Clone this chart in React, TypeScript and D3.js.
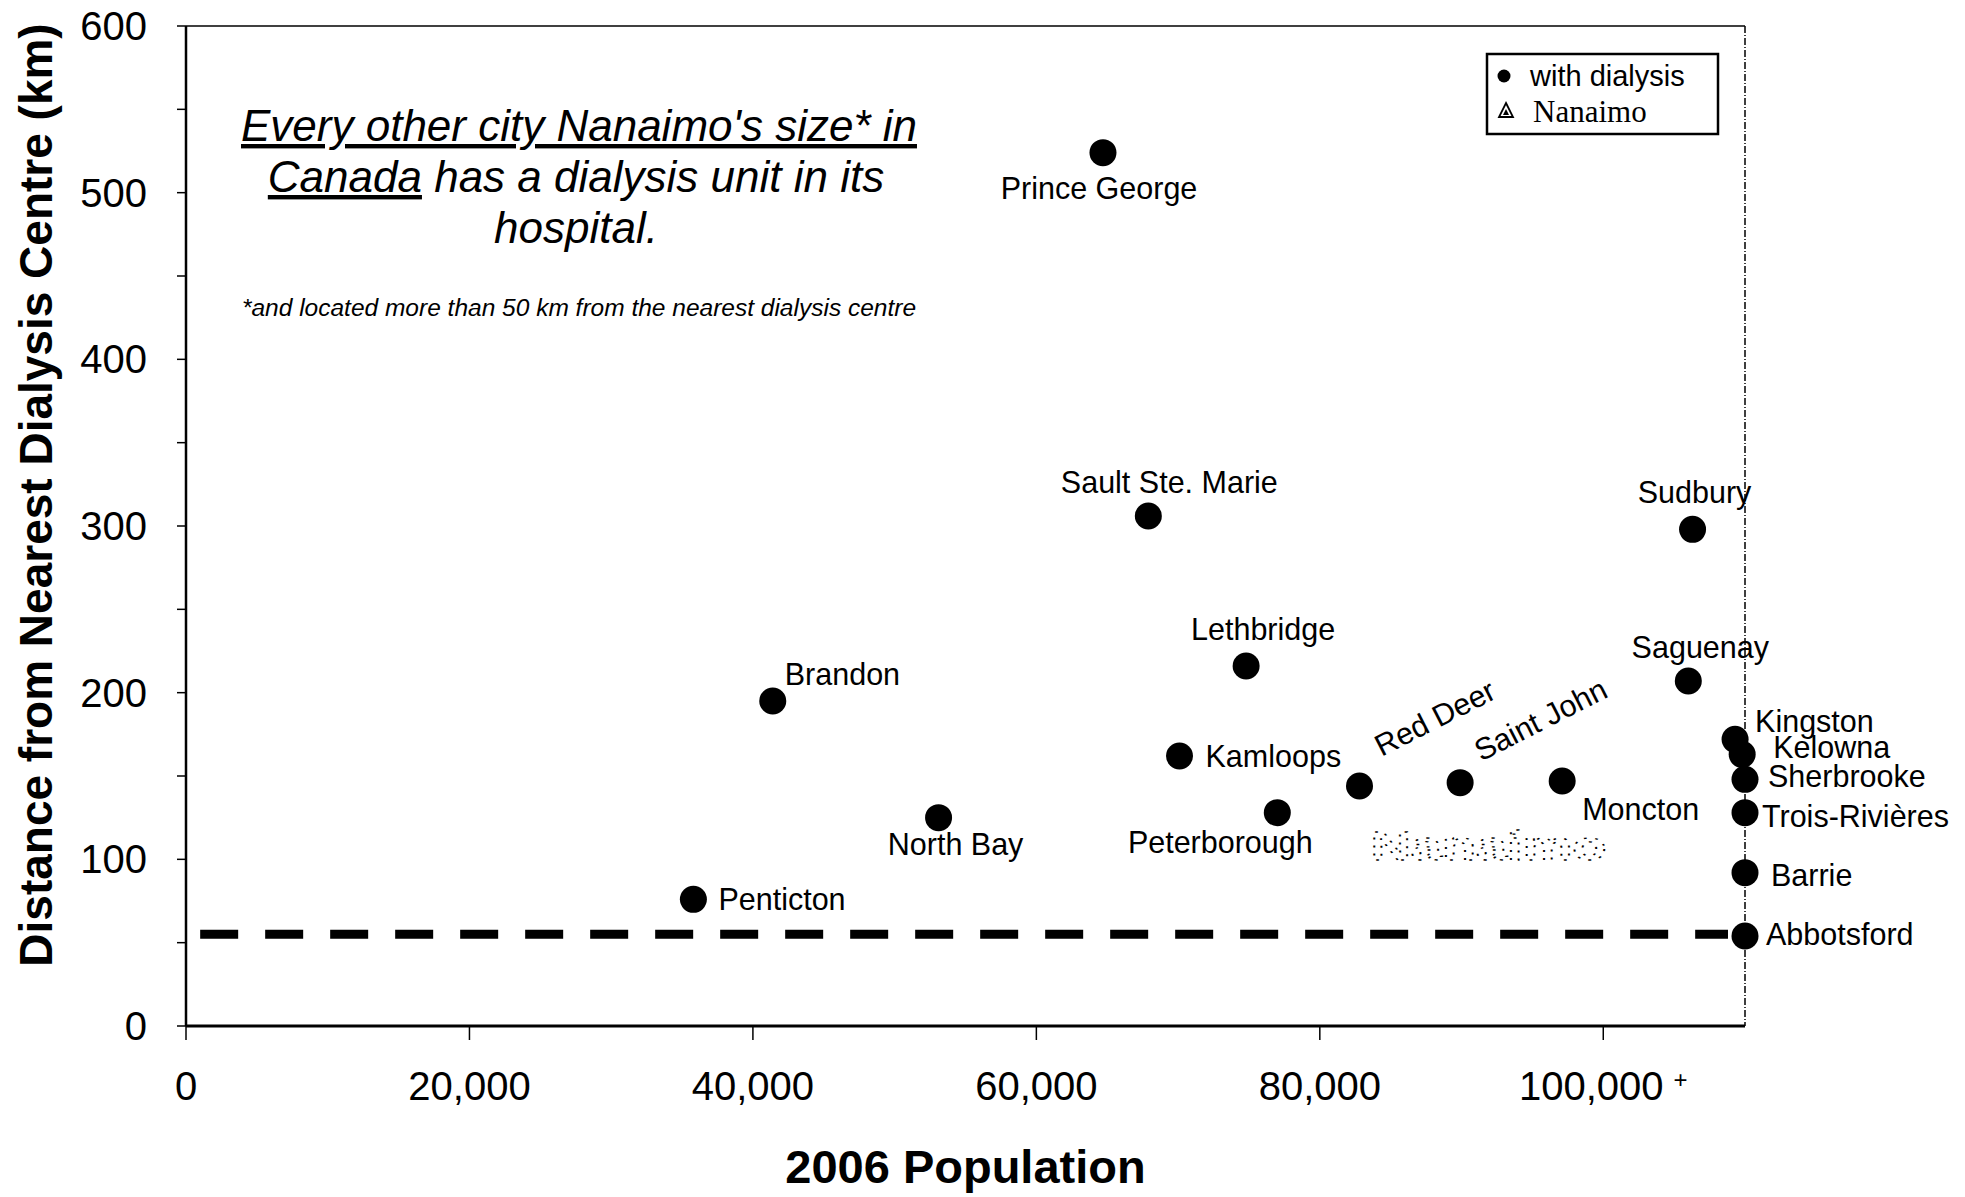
import { useEffect } from "react";
import * as d3 from "d3";

// cities with a dialysis unit (2006 population, km to nearest other dialysis centre)
const cities = [
  "Penticton", "Brandon", "North Bay", "Prince George", "Sault Ste. Marie",
  "Kamloops", "Lethbridge", "Peterborough", "Red Deer", "Saint John",
  "Moncton", "Saguenay", "Sudbury", "Kingston", "Kelowna",
  "Sherbrooke", "Trois-Rivières", "Barrie", "Abbotsford",
];
const population = [
  35800, 41400, 53100, 64700, 67900,
  70100, 74800, 77000, 82800, 89900,
  97100, 106000, 106300, 109300, 109800,
  110000, 110000, 110000, 110000,
];
const distanceKm = [
  76, 195, 125, 524, 306,
  162, 216, 128, 144, 146,
  147, 207, 298, 172, 163,
  148, 128, 92, 54,
];

const nanaimo = { name: "Nanaimo", population: 91900, distance: 108 };
const thresholdKm = 55;

const xTicks = [0, 20000, 40000, 60000, 80000, 100000];
const yTicks = [0, 100, 200, 300, 400, 500, 600];
const yMinorTicks = d3.range(0, 601, 50);

const noteLines = ["Every other city Nanaimo's size* in", "has a dialysis unit in its", "hospital."];
const footnote = "*and located more than 50 km from the nearest dialysis centre";

// label placement relative to each dot: [anchor, dx, dy, rotation]
const labelPlace: Record<string, [string, number, number, number]> = {
  Penticton: ["start", 25, 0, 0],
  Brandon: ["start", 12, -27, 0],
  "North Bay": ["middle", 17, 26, 0],
  "Prince George": ["middle", -4, 35, 0],
  "Sault Ste. Marie": ["middle", 21, -34, 0],
  Kamloops: ["start", 26, 0, 0],
  Lethbridge: ["middle", 17, -37, 0],
  Peterborough: ["middle", -57, 29, 0],
  "Red Deer": ["start", 22, -29, -27],
  "Saint John": ["start", 21, -21, -27],
  Moncton: ["start", 20, 28, 0],
  Saguenay: ["middle", 12, -34, 0],
  Sudbury: ["middle", 2, -37, 0],
  Kingston: ["start", 20, -18, 0],
  Kelowna: ["start", 31, -7, 0],
  Sherbrooke: ["start", 23, -3, 0],
  "Trois-Rivières": ["start", 17, 3, 0],
  Barrie: ["start", 26, 2, 0],
  Abbotsford: ["start", 21, -2, 0],
};

const W = 1965;
const H = 1197;
const margin = { top: 26, right: 220, bottom: 171, left: 186 };
const FONT = "'Liberation Sans', Arial, Helvetica, sans-serif";

export default function App() {
  useEffect(() => {
    document.body.style.margin = "0";
  }, []);

  const innerW = W - margin.left - margin.right;
  const innerH = H - margin.top - margin.bottom;

  const x = d3.scaleLinear().domain([0, 110000]).range([0, innerW]);
  const y = d3.scaleLinear().domain([0, 600]).range([innerH, 0]);
  const fmt = d3.format(",");

  const points = cities.map((c, i) => ({ name: c, pop: population[i], dist: distanceKm[i] }));

  return (
    <svg width={W} height={H} style={{ display: "block", background: "#fff" }} fontFamily={FONT}>
      <g transform={`translate(${margin.left},${margin.top})`}>
        {/* frame top + right */}
        <line x1={0} x2={innerW} y1={0} y2={0} stroke="#000" strokeWidth={1.5} />
        <line x1={innerW} x2={innerW} y1={0} y2={innerH} stroke="#000" strokeWidth={1.5} strokeDasharray="7 2 1 2" />

        {/* threshold line */}
        <line
          x1={x(1000)}
          x2={x(108800)}
          y1={y(thresholdKm)}
          y2={y(thresholdKm)}
          stroke="#000"
          strokeWidth={9}
          strokeDasharray="38 27"
        />

        {/* axes */}
        <line x1={0} x2={0} y1={0} y2={innerH} stroke="#000" strokeWidth={2.5} />
        <line x1={0} x2={innerW} y1={innerH} y2={innerH} stroke="#000" strokeWidth={3} />
        {yMinorTicks.map((t) => (
          <line key={"yt" + t} x1={-9} x2={0} y1={y(t)} y2={y(t)} stroke="#000" strokeWidth={1.5} />
        ))}
        {yTicks.map((t) => (
          <text key={"yl" + t} x={-39} y={y(t)} textAnchor="end" dominantBaseline="central" fontSize={40}>
            {t}
          </text>
        ))}
        {xTicks.map((t) => (
          <line key={"xt" + t} x1={x(t)} x2={x(t)} y1={innerH} y2={innerH + 14} stroke="#000" strokeWidth={1.5} />
        ))}
        {xTicks.map((t) => (
          <text key={"xl" + t} x={x(t)} y={innerH + 74} textAnchor="middle" fontSize={40}>
            {fmt(t)}
            {t === 100000 && (
              <tspan dx={10} dy={-12} fontSize={24}>
                +
              </tspan>
            )}
          </text>
        ))}

        {/* points */}
        {points.map((p) => (
          <circle key={p.name} cx={x(p.pop)} cy={y(p.dist)} r={13.5} fill="#000" />
        ))}
        {points.map((p) => {
          const [anchor, dx, dy, rot] = labelPlace[p.name];
          const lx = x(p.pop) + dx;
          const ly = y(p.dist) + dy;
          return (
            <text
              key={"l" + p.name}
              transform={`translate(${lx},${ly}) rotate(${rot})`}
              textAnchor={anchor}
              dominantBaseline={rot ? "alphabetic" : "central"}
              fontSize={30.5}
            >
              {p.name}
            </text>
          );
        })}

        {/* Nanaimo, ghosted */}
        <text
          x={x(nanaimo.population)}
          y={y(nanaimo.distance)}
          textAnchor="middle"
          dominantBaseline="central"
          fontSize={40}
          fontWeight="bold"
          textLength={236}
          lengthAdjust="spacingAndGlyphs"
          fill="#fff"
          stroke="#000"
          strokeWidth={1.4}
          strokeDasharray="2 6"
        >
          {nanaimo.name}
        </text>
      </g>

      {/* annotation */}
      <g fontStyle="italic" textAnchor="middle" fontSize={44}>
        <text x={579} y={141} textDecoration="underline">
          {noteLines[0]}
        </text>
        <text x={576} y={192}>
          <tspan textDecoration="underline">Canada</tspan>
          {"  " + noteLines[1]}
        </text>
        <text x={576} y={243}>
          {noteLines[2]}
        </text>
        <text x={579} y={316} fontSize={24.5}>
          {footnote}
        </text>
      </g>

      {/* legend */}
      <g>
        <rect x={1487} y={54} width={231} height={80} fill="#fff" stroke="#000" strokeWidth={2.5} />
        <circle cx={1504} cy={76} r={6.5} fill="#000" />
        <text x={1530} y={76} dominantBaseline="central" fontSize={29}>
          with dialysis
        </text>
        <path d="M1506,103 L1513,117 L1499,117 Z" fill="#fff" stroke="#000" strokeWidth={1.8} />
        <path d="M1506,109 L1509,115 L1503,115 Z" fill="#000" />
        <text x={1533} y={111} dominantBaseline="central" fontSize={31} fontFamily="'Liberation Serif', 'Times New Roman', serif">
          Nanaimo
        </text>
      </g>

      {/* axis titles */}
      <text x={margin.left + innerW / 2} y={1183} textAnchor="middle" fontSize={47} fontWeight="bold">
        2006 Population
      </text>
      <text
        transform={`translate(52,495) rotate(-90)`}
        textAnchor="middle"
        fontSize={46}
        fontWeight="bold"
      >
        Distance from Nearest Dialysis Centre (km)
      </text>
    </svg>
  );
}
